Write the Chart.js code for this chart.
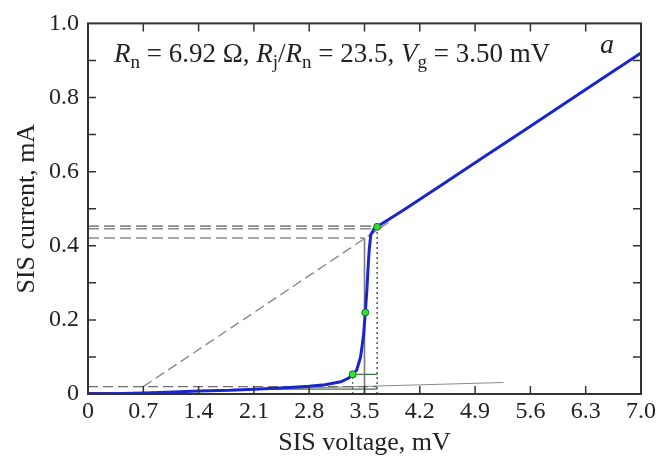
<!DOCTYPE html>
<html><head><meta charset="utf-8">
<script src="https://cdn.jsdelivr.net/npm/chart.js@4/dist/chart.umd.min.js"></script>
<style>html,body{margin:0;padding:0;background:#fff;}#wrap{width:672px;height:459px;}</style>
</head><body><div id="wrap"><canvas id="c" width="672" height="459"></canvas></div>
<script>
// ---- data ----
const ivVoltage = [0,0.3,0.7,1.0,1.4,1.8,2.1,2.5,2.8,3.0,3.2,3.3,3.35,3.40,3.43,3.45,3.47,3.49,3.51,3.53,3.545,3.56,3.58,3.62,3.66,3.8,4.0,4.5,5.0,5.5,6.0,6.5,7.0];
const ivCurrent = [0,0.001,0.003,0.005,0.008,0.010,0.013,0.017,0.021,0.025,0.033,0.043,0.053,0.064,0.085,0.10,0.13,0.163,0.22,0.28,0.34,0.39,0.43,0.445,0.451,0.470,0.497,0.567,0.638,0.708,0.779,0.850,0.92];
const markVoltage = [3.35,3.51,3.66];
const markCurrent = [0.053,0.22,0.451];
const originV = [0,0.35]; const originI = [0.001,0.001];
const dashTopV = [0,3.64]; const dashTopI = [0.453,0.453];
const dashMidV = [0,3.62]; const dashMidI = [0.446,0.446];
const dashLowV = [0,3.5]; const dashLowI = [0.421,0.421];
const dashZeroV = [0,3.66]; const dashZeroI = [0.02,0.02];
const diagV = [0.7,3.82]; const diagI = [0.02,0.465];
const vgLineV = [3.5,3.5]; const vgLineI = [0,0.421];
const topDotV = [3.66,3.66]; const topDotI = [0,0.451];
const lowDotV = [3.35,3.35]; const lowDotI = [0,0.053];
const greenHiV = [3.35,3.66]; const greenHiI = [0.053,0.053];
const greenLoV = [2.2,3.66]; const greenLoI = [0.013,0.013];
const subgapV = [2.2,5.26]; const subgapI = [0.013,0.031];
const xTickValues = [0,0.7,1.4,2.1,2.8,3.5,4.2,4.9,5.6,6.3,7.0];
const xTickLabels = ['0','0.7','1.4','2.1','2.8','3.5','4.2','4.9','5.6','6.3','7.0'];
const yTickValues = [0,0.1,0.2,0.3,0.4,0.5,0.6,0.7,0.8,0.9,1.0];
const yTickLabels = ['0','','0.2','','0.4','','0.6','','0.8','','1.0'];
const xTitle = 'SIS voltage, mV';
const yTitle = 'SIS current, mA';
const panelLetter = 'a';

// ---- helpers ----
const pts = (xs, ys) => xs.map((x,i)=>({x:x, y:ys[i]}));
function line(xs, ys, color, width, dash, order){
  return {data:pts(xs,ys), showLine:true, borderColor:color, borderWidth:width, borderDash:dash||[], pointRadius:0, fill:false, order:order, tension:0};
}
const FONT = "'Liberation Serif', 'Times New Roman', serif";

const framePlugin = {
  id:'frame',
  afterDraw(chart){
    const ctx = chart.ctx, a = chart.chartArea;
    const xs = chart.scales.x, ys = chart.scales.y;
    ctx.save();
    ctx.strokeStyle = '#333'; ctx.lineWidth = 2;
    ctx.strokeRect(a.left, a.top, a.right-a.left, a.bottom-a.top);
    ctx.lineWidth = 1.5;
    ctx.beginPath();
    xs.ticks.forEach(t=>{
      const px = xs.getPixelForValue(t.value);
      if (px <= a.left+1 || px >= a.right-1) return;
      ctx.moveTo(px, a.bottom); ctx.lineTo(px, a.bottom-8);
      ctx.moveTo(px, a.top); ctx.lineTo(px, a.top+8);
    });
    ys.ticks.forEach(t=>{
      const py = ys.getPixelForValue(t.value);
      if (py <= a.top+1 || py >= a.bottom-1) return;
      ctx.moveTo(a.left, py); ctx.lineTo(a.left+8, py);
      ctx.moveTo(a.right, py); ctx.lineTo(a.right-8, py);
    });
    ctx.stroke();
    // annotation text with sub-scripts
    const parts = [
      ['R','i'],['n','sub'],[' = 6.92 Ω, ','n'],['R','i'],['j','sub'],['/','n'],['R','i'],['n','sub'],[' = 23.5, ','n'],['V','i'],['g','sub'],[' = 3.50 mV','n']
    ];
    let x = 114; const base = 62;
    ctx.fillStyle = '#222'; ctx.textBaseline = 'alphabetic'; ctx.textAlign = 'left';
    parts.forEach(([s,k])=>{
      if (k==='i') ctx.font = 'italic 27px '+FONT;
      else if (k==='sub') ctx.font = '19px '+FONT;
      else ctx.font = '27px '+FONT;
      ctx.fillText(s, x, k==='sub' ? base+6 : base);
      x += ctx.measureText(s).width;
    });
    ctx.font = 'italic 28px '+FONT;
    ctx.fillText(panelLetter, 600, 53);
    ctx.restore();
  }
};

new Chart(document.getElementById('c'), {
  type:'scatter',
  data:{datasets:[
    line(ivVoltage, ivCurrent, '#1a26cc', 3, [], 1),
    {data:pts(markVoltage, markCurrent), pointRadius:3.5, pointBackgroundColor:'#2fe02f', pointBorderColor:'#1f6a1f', pointBorderWidth:1, showLine:false, order:0},
    line(originV, originI, '#111', 3, [], 2),
    line(dashTopV, dashTopI, '#8a8a8a', 1.6, [11,5], 3),
    line(dashMidV, dashMidI, '#8a8a8a', 1.6, [11,5], 3),
    line(dashLowV, dashLowI, '#8a8a8a', 1.6, [11,5], 3),
    line(dashZeroV, dashZeroI, '#6e6e6e', 1.4, [10,5], 3),
    line(diagV, diagI, '#8a8a8a', 1.4, [10,5], 3),
    line(vgLineV, vgLineI, '#7a7a7a', 1.6, [], 3),
    line(topDotV, topDotI, '#444', 1.4, [2,3], 3),
    line(lowDotV, lowDotI, '#3d7a3d', 1.2, [2,3], 3),
    line(greenHiV, greenHiI, '#3d7a3d', 1.3, [], 3),
    line(greenLoV, greenLoI, '#4a6e4a', 1.3, [], 3),
    line(subgapV, subgapI, '#8a8a8a', 1.1, [], 4)
  ]},
  options:{
    responsive:false, animation:false, devicePixelRatio:1,
    layout:{padding:{left:0, right:31, top:19, bottom:0}},
    plugins:{legend:{display:false}, tooltip:{enabled:false}},
    scales:{
      x:{type:'linear', min:0, max:7.0,
        afterBuildTicks(s){ s.ticks = xTickValues.map(v=>({value:v})); },
        afterFit(s){ s.height = 65; },
        grid:{display:false, drawTicks:false}, border:{display:false},
        ticks:{autoSkip:false, maxRotation:0, padding:3, color:'#222', font:{family:FONT, size:24},
          callback:(v,i)=>xTickLabels[i]},
        title:{display:true, text:xTitle, color:'#222', font:{family:FONT, size:26}, padding:{top:0, bottom:0}}
      },
      y:{type:'linear', min:0, max:1.0,
        afterBuildTicks(s){ s.ticks = yTickValues.map(v=>({value:v})); },
        afterFit(s){ s.width = 88; },
        grid:{display:false, drawTicks:false}, border:{display:false},
        ticks:{autoSkip:false, padding:9, color:'#222', font:{family:FONT, size:24},
          callback:(v,i)=>yTickLabels[i]},
        title:{display:true, text:yTitle, color:'#222', font:{family:FONT, size:26}, padding:{top:12, bottom:0}}
      }
    }
  },
  plugins:[framePlugin]
});
</script></body></html>
